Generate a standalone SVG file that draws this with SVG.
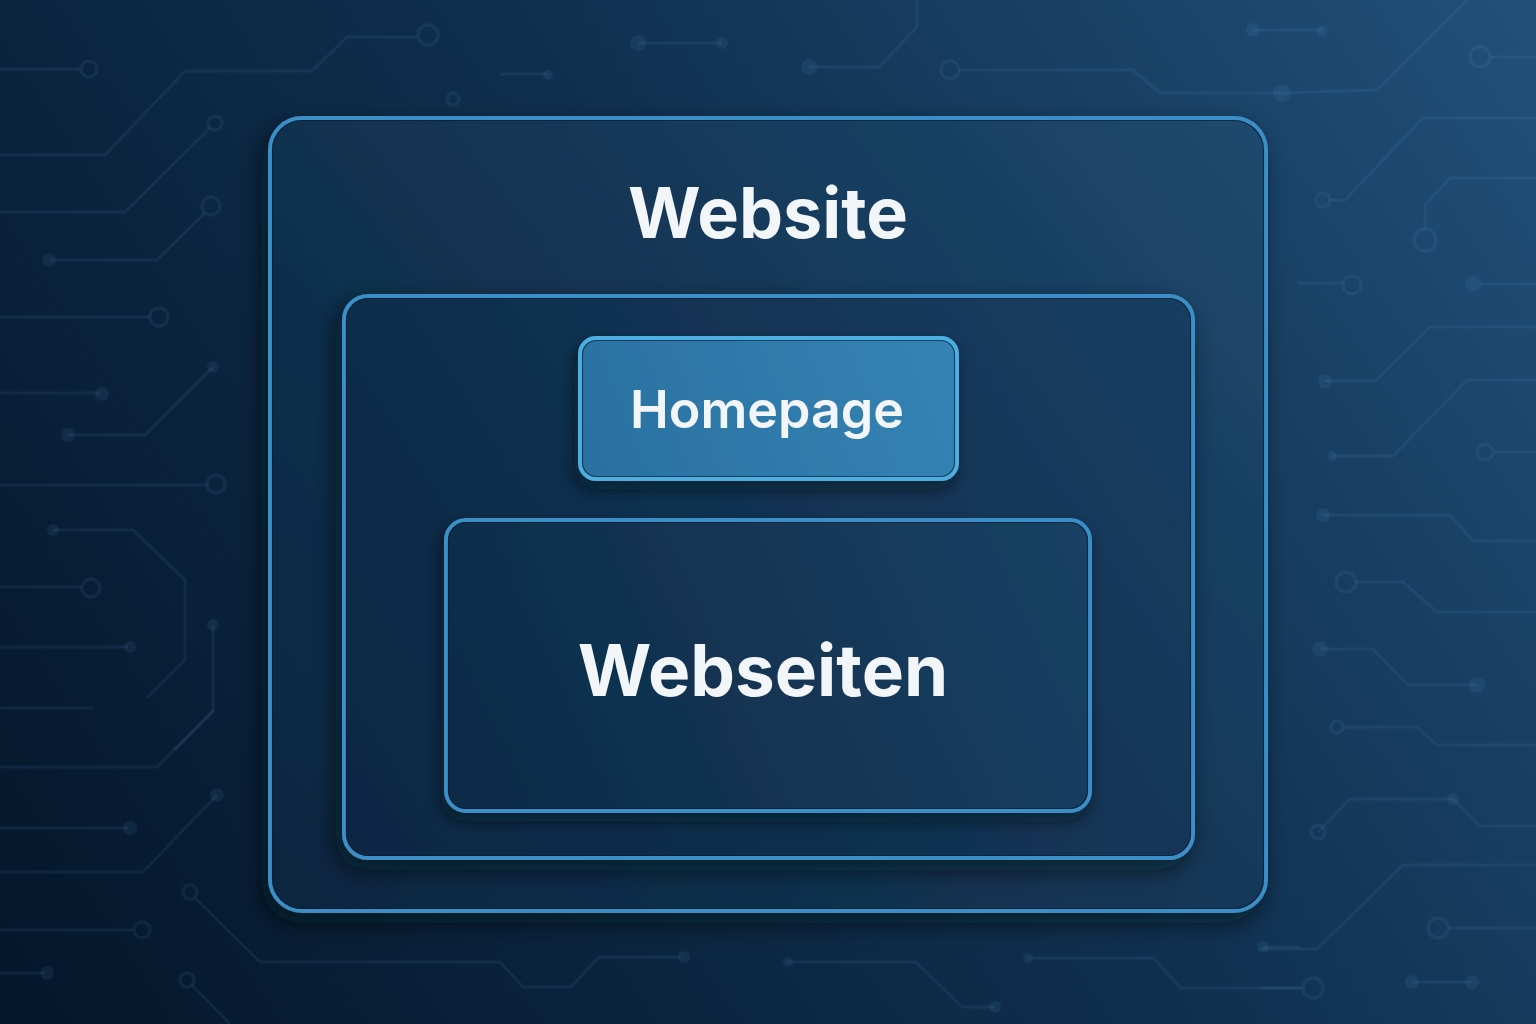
<svg xmlns="http://www.w3.org/2000/svg" width="1536" height="1024" viewBox="0 0 1536 1024">
  <defs>
    <linearGradient id="bg" x1="1536" y1="0" x2="0" y2="1024" gradientUnits="userSpaceOnUse">
      <stop offset="0" stop-color="#21507a"/>
      <stop offset="0.45" stop-color="#10304f"/>
      <stop offset="1" stop-color="#04162a"/>
    </linearGradient>
    <linearGradient id="outerFill" x1="1266" y1="117" x2="269" y2="911" gradientUnits="userSpaceOnUse">
      <stop offset="0" stop-color="#1d4a6e"/>
      <stop offset="0.5" stop-color="#133453"/>
      <stop offset="1" stop-color="#0b2640"/>
    </linearGradient>
    <linearGradient id="midFill" x1="1193" y1="295" x2="343" y2="858" gradientUnits="userSpaceOnUse">
      <stop offset="0" stop-color="#173f62"/>
      <stop offset="0.5" stop-color="#113151"/>
      <stop offset="1" stop-color="#0b2743"/>
    </linearGradient>
    <linearGradient id="webFill" x1="1090" y1="519" x2="445" y2="811" gradientUnits="userSpaceOnUse">
      <stop offset="0" stop-color="#1a4264"/>
      <stop offset="0.5" stop-color="#133554"/>
      <stop offset="1" stop-color="#0d2a47"/>
    </linearGradient>
    <linearGradient id="homeFill" x1="957" y1="337" x2="579" y2="479" gradientUnits="userSpaceOnUse">
      <stop offset="0" stop-color="#3484b5"/>
      <stop offset="1" stop-color="#2a70a0"/>
    </linearGradient>
    <filter id="shadow" x="-20%" y="-20%" width="140%" height="140%">
      <feDropShadow dx="-6" dy="10" stdDeviation="12" flood-color="#000814" flood-opacity="0.6"/>
    </filter>
    <filter id="shadowSm" x="-20%" y="-20%" width="140%" height="150%">
      <feDropShadow dx="-3" dy="8" stdDeviation="8" flood-color="#000814" flood-opacity="0.55"/>
    </filter>
    <style>
      .trace { fill: none; stroke: #6ab0ea; stroke-opacity: 0.09; stroke-width: 3; stroke-linejoin: round; }
      .ring { fill: none; stroke: #6ab0ea; stroke-opacity: 0.09; stroke-width: 3.5; }
      .dot { fill: #6ab0ea; fill-opacity: 0.09; }
      .box { stroke: #3b8ec6; stroke-width: 4; }
      .inner { fill: none; stroke: #071a2e; stroke-opacity: 0.6; stroke-width: 1.2; }
      .label { fill: #f3f6f9; font-family: Inter, "Open Sans", "Liberation Sans", sans-serif; text-anchor: middle; }
    </style>
  </defs>

  <rect width="1536" height="1024" fill="url(#bg)"/>

  <g id="circuit-background">
    <path class="trace" d="M0 69 H80"/><circle class="ring" cx="89" cy="69" r="8"/>
    <path class="trace" d="M0 155 H105 L185 71 H312 L347 37 H417"/><circle class="ring" cx="428" cy="35" r="10"/>
    <path class="trace" d="M210 128 L125 212 H0"/><circle class="ring" cx="215" cy="123" r="7"/>
    <path class="trace" d="M205 213 L157 260 H50"/><circle class="ring" cx="211" cy="206" r="9"/><circle class="dot" cx="49" cy="260" r="7"/>
    <circle class="ring" cx="453" cy="99" r="6"/>
    <path class="trace" d="M0 317 H150"/><circle class="ring" cx="159" cy="317" r="9"/>
    <path class="trace" d="M0 393 H100"/><circle class="dot" cx="102" cy="394" r="7"/>
    <path class="trace" d="M68 435 H145 L213 367"/><circle class="dot" cx="68" cy="435" r="7"/><circle class="dot" cx="213" cy="367" r="6"/>
    <path class="trace" d="M0 485 H207"/><circle class="ring" cx="216" cy="484" r="9"/>
    <path class="trace" d="M53 530 H133 L185 580 V660 L147 698"/><circle class="dot" cx="53" cy="530" r="6"/>
    <path class="trace" d="M0 587 H82"/><circle class="ring" cx="91" cy="588" r="9"/>
    <path class="trace" d="M0 647 H128"/><circle class="dot" cx="130" cy="647" r="6"/>
    <path class="trace" d="M213 625 V712 L175 750"/><circle class="dot" cx="213" cy="625" r="6"/>
    <path class="trace" d="M0 708 H93"/>
    <path class="trace" d="M0 767 H157 L213 710"/>
    <path class="trace" d="M217 795 L143 872 H0"/><circle class="dot" cx="217" cy="795" r="7"/>
    <path class="trace" d="M0 828 H128"/><circle class="dot" cx="130" cy="828" r="7"/>
    <path class="trace" d="M195 898 L260 962 H500 L523 987 H571 L599 957 H681"/><circle class="ring" cx="190" cy="892" r="7"/><circle class="dot" cx="684" cy="957" r="6"/>
    <path class="trace" d="M0 930 H133"/><circle class="ring" cx="142" cy="930" r="8"/>
    <path class="trace" d="M0 973 H45"/><circle class="dot" cx="47" cy="973" r="7"/>
    <path class="trace" d="M192 985 L230 1024"/><circle class="ring" cx="187" cy="980" r="7"/>
    <path class="trace" d="M788 962 H916 L962 1007 H995"/><circle class="dot" cx="788" cy="962" r="5"/><circle class="dot" cx="995" cy="1007" r="6"/>
    <path class="trace" d="M1028 958 H1153 L1181 988 H1300"/><circle class="dot" cx="1028" cy="958" r="5"/>
    <path class="trace" d="M1263 947 H1300"/><circle class="dot" cx="1263" cy="947" r="6"/>
    <path class="trace" d="M500 74 H548"/><circle class="dot" cx="548" cy="75" r="5"/>
    <path class="trace" d="M638 43 H722"/><circle class="dot" cx="638" cy="43" r="8"/><circle class="dot" cx="722" cy="43" r="6"/>
    <path class="trace" d="M809 67 H879 L917 27 V0"/><circle class="dot" cx="809" cy="67" r="8"/>
    <path class="trace" d="M959 70 H1133 L1160 93 H1282 L1377 90 L1467 0"/><circle class="ring" cx="950" cy="70" r="9"/><circle class="dot" cx="1282" cy="93" r="9"/>
    <path class="trace" d="M1253 30 H1322"/><circle class="dot" cx="1253" cy="30" r="7"/><circle class="dot" cx="1322" cy="31" r="5"/>
    <path class="trace" d="M1490 57 H1536"/><circle class="ring" cx="1480" cy="57" r="10"/>
    <path class="trace" d="M1330 200 H1345 L1423 118 H1536"/><circle class="ring" cx="1323" cy="200" r="7"/>
    <path class="trace" d="M1536 178 H1450 L1425 205 V229"/><circle class="ring" cx="1425" cy="240" r="11"/>
    <path class="trace" d="M1298 283 H1343"/><circle class="ring" cx="1352" cy="285" r="9"/>
    <path class="trace" d="M1480 284 H1536"/><circle class="dot" cx="1473" cy="284" r="8"/>
    <path class="trace" d="M1325 381 H1375 L1430 327 H1536"/><circle class="dot" cx="1325" cy="381" r="7"/>
    <path class="trace" d="M1332 456 H1393 L1467 380 H1536"/><circle class="dot" cx="1332" cy="456" r="5"/>
    <path class="trace" d="M1494 452 H1536"/><circle class="ring" cx="1485" cy="452" r="8"/>
    <path class="trace" d="M1323 515 H1450 L1473 541 H1536"/><circle class="dot" cx="1323" cy="515" r="7"/>
    <path class="trace" d="M1356 582 H1403 L1437 612 H1536"/><circle class="ring" cx="1346" cy="582" r="10"/>
    <path class="trace" d="M1320 649 H1373 L1408 685 H1477"/><circle class="dot" cx="1320" cy="649" r="8"/><circle class="dot" cx="1477" cy="685" r="8"/>
    <path class="trace" d="M1343 727 H1417 L1437 745 H1536"/><circle class="ring" cx="1337" cy="727" r="6"/>
    <path class="trace" d="M1318 832 L1350 799 H1453 L1480 826 H1536"/><circle class="ring" cx="1318" cy="832" r="7"/><circle class="dot" cx="1453" cy="799" r="6"/>
    <path class="trace" d="M1260 949 H1317 L1403 865 H1536"/>
    <path class="trace" d="M1448 928 H1536"/><circle class="ring" cx="1438" cy="928" r="10"/>
    <path class="trace" d="M1260 988 H1303"/><circle class="ring" cx="1313" cy="988" r="10"/>
    <path class="trace" d="M1412 982 H1472"/><circle class="dot" cx="1412" cy="982" r="7"/><circle class="dot" cx="1472" cy="982" r="7"/>
  </g>

  <g id="connectors"></g>

  <g id="website">
    <rect x="270" y="118" width="996" height="793" rx="32" fill="url(#outerFill)" class="box" filter="url(#shadow)"/>
    <rect x="272.5" y="120.5" width="991" height="788" rx="30" class="inner"/>
    <text class="label" x="768" y="238" font-size="70" font-weight="700">Website</text>
  </g>

  <g id="webseiten-container">
    <rect x="344" y="296" width="849" height="562" rx="24" fill="url(#midFill)" class="box" filter="url(#shadow)"/>
    <rect x="346.5" y="298.5" width="844" height="557" rx="22" class="inner"/>
  </g>

  <g id="homepage">
    <rect x="580" y="338" width="377" height="141" rx="16" fill="url(#homeFill)" stroke="#4eaee2" stroke-width="4" filter="url(#shadowSm)"/>
    <rect x="582.5" y="340.5" width="372" height="136" rx="14" class="inner" stroke-opacity="0.35"/>
    <text class="label" x="767" y="428" font-size="52" font-weight="600">Homepage</text>
  </g>

  <g id="webseiten">
    <rect x="446" y="520" width="644" height="291" rx="20" fill="url(#webFill)" class="box" filter="url(#shadowSm)"/>
    <rect x="448.5" y="522.5" width="639" height="286" rx="18" class="inner"/>
    <text class="label" x="763" y="696" font-size="71" font-weight="700">Webseiten</text>
  </g>
</svg>
